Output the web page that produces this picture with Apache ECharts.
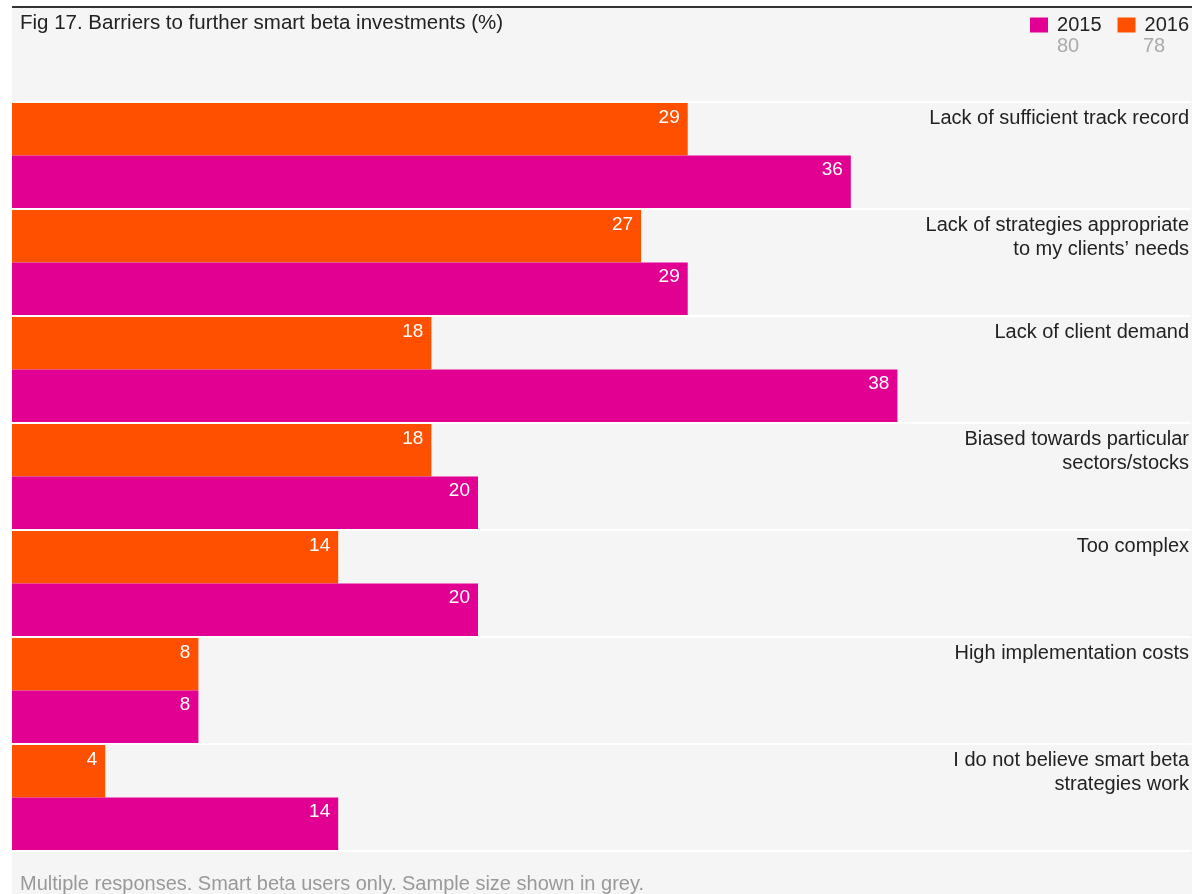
<!DOCTYPE html>
<html>
<head>
<meta charset="utf-8">
<script src="https://cdn.jsdelivr.net/npm/echarts@6/dist/echarts.min.js"></script>
<style>
  html, body { margin: 0; padding: 0; background: #ffffff; }
  #bg { position: absolute; left: 12px; top: 6px; width: 1180px; height: 888px; background: #f5f5f5; border-top: 2px solid #333; }
  #chart { position: absolute; left: 0; top: 0; width: 1192px; height: 894px; }
</style>
</head>
<body>
<div id="bg"></div>
<div id="chart"></div>
<script>
const titleText = 'Fig 17. Barriers to further smart beta investments (%)';
const footnote = 'Multiple responses. Smart beta users only. Sample size shown in grey.';
const categories = [
  'Lack of sufficient track record',
  'Lack of strategies appropriate\nto my clients\u2019 needs',
  'Lack of client demand',
  'Biased towards particular\nsectors/stocks',
  'Too complex',
  'High implementation costs',
  'I do not believe smart beta\nstrategies work'
];
const years = ['2015', '2016'];
const sampleSizes = [80, 78];
const values2015 = [36, 29, 38, 20, 20, 8, 14];
const values2016 = [29, 27, 18, 18, 14, 8, 4];

const FONT = '"Liberation Sans", Arial, sans-serif';
const MAGENTA = '#e10091';
const ORANGE = '#ff5000';

const chart = echarts.init(document.getElementById('chart'), null, { renderer: 'canvas' });

const valueLabel = {
  show: true,
  position: 'insideTopRight',
  distance: 5,
  offset: [-3, 0],
  color: '#ffffff',
  fontFamily: FONT,
  fontSize: 19
};

chart.setOption({
  backgroundColor: 'transparent',
  animation: false,
  title: {
    text: titleText,
    left: 15,
    top: 8,
    textStyle: { fontFamily: FONT, fontSize: 20.5, fontWeight: 'normal', color: '#222' }
  },
  legend: {
    data: years,
    right: 0,
    top: 10,
    padding: [5, 3, 5, 5],
    itemWidth: 18,
    itemHeight: 15,
    itemGap: 16,
    icon: 'rect',
    textStyle: { fontFamily: FONT, fontSize: 20, color: '#222', padding: [0, 0, 0, 4] }
  },
  graphic: [
    { type: 'text', left: 1057, top: 36, style: { text: String(sampleSizes[0]), fill: '#aaa', font: '20px ' + FONT } },
    { type: 'text', left: 1143, top: 36, style: { text: String(sampleSizes[1]), fill: '#aaa', font: '20px ' + FONT } },
    { type: 'text', left: 20, top: 874, style: { text: footnote, fill: '#999', font: '20px ' + FONT } }
  ],
  grid: { left: 12, right: 0, top: 102, bottom: 43 },
  xAxis: {
    type: 'value',
    min: 0,
    max: 50.6,
    show: false,
    splitLine: { show: false }
  },
  yAxis: [
    {
      type: 'category',
      data: categories,
      inverse: true,
      axisLine: { show: false },
      axisTick: { show: false },
      axisLabel: { show: false },
      splitLine: { show: false }
    },
    {
      type: 'category',
      data: categories.concat(['']),
      inverse: true,
      boundaryGap: false,
      position: 'right',
      axisLine: { show: false },
      axisTick: { show: false },
      axisLabel: {
        show: true,
        inside: true,
        interval: 0,
        margin: 2,
        align: 'right',
        verticalAlign: 'top',
        padding: [4, 0, 0, 0],
        lineHeight: 24,
        color: '#222',
        fontFamily: FONT,
        fontSize: 20
      },
      splitLine: { show: true, interval: 0, lineStyle: { color: '#ffffff', width: 2 } }
    }
  ],
  series: [
    {
      name: '2016',
      type: 'bar',
      data: values2016,
      itemStyle: { color: ORANGE },
      barGap: '0%',
      barCategoryGap: '2%',
      label: valueLabel
    },
    {
      name: '2015',
      type: 'bar',
      data: values2015,
      itemStyle: { color: MAGENTA },
      barGap: '0%',
      barCategoryGap: '2%',
      label: valueLabel
    }
  ]
});
</script>
</body>
</html>
